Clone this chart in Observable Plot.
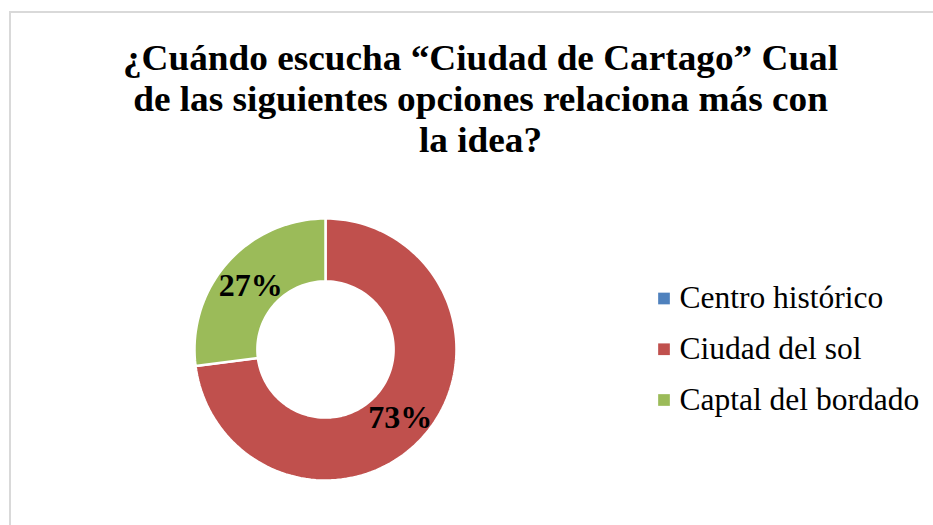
<!DOCTYPE html>
<html>
<head>
<meta charset="utf-8">
<script src="https://cdn.jsdelivr.net/npm/d3@7"></script>
<script src="https://cdn.jsdelivr.net/npm/@observablehq/plot@0.6"></script>
<style>
  html, body { margin: 0; padding: 0; background: #fff; overflow: hidden; width: 933px; height: 525px; }
  svg { max-width: none !important; }
  #frame { position: absolute; left: 9px; top: 11px; width: 940px; height: 530px;
           border-left: 2px solid #d9d9d9; border-top: 2px solid #d9d9d9; box-sizing: border-box; }
  #title { position: absolute; left: 0; top: 0; width: 960px; height: 170px;
           transform: scaleX(1.05); transform-origin: 480px 0; }
  #chart { position: absolute; left: 194px; top: 218px; }
  #legend { position: absolute; left: 640px; top: 260px; }
</style>
</head>
<body>
<div id="frame"></div>
<div id="title"></div>
<div id="chart"></div>
<div id="legend"></div>
<script>
const titleLines = ["¿Cuándo escucha “Ciudad de Cartago” Cual", "de las siguientes opciones relaciona más con", "la idea?"];
const categories = ["Centro histórico", "Ciudad del sol", "Captal del bordado"];
const values = [0, 73, 27];
const colors = ["#4F81BD", "#C0504D", "#9BBB59"];
const labels = ["0%", "73%", "27%"];

const serif = "Liberation Serif, Times New Roman, serif";

// ---- title ----
const titlePlot = Plot.plot({
  width: 960, height: 170, margin: 0,
  x: {axis: null},
  y: {domain: [0, titleLines.length - 1], range: [69.5, 151.5], axis: null},
  style: {background: "transparent", fontFamily: serif},
  marks: [
    Plot.text(titleLines, {y: (d, i) => i, text: d => d, frameAnchor: "top", lineAnchor: "bottom",
      textAnchor: "middle", fontSize: 35.5, fontWeight: "bold", fill: "black", fontFamily: serif})
  ]
});
document.getElementById("title").appendChild(titlePlot);

// ---- donut ----
const innerR = 0.52;
const outerR = 1;
const pie = d3.pie().sort(null).value(d => d.value)(categories.map((c, i) => ({category: c, value: values[i], label: labels[i]})));

const pts = [];
const steps = 160;
for (const a of pie) {
  if (a.endAngle - a.startAngle <= 0) continue;
  const n = Math.max(2, Math.ceil(steps * (a.endAngle - a.startAngle) / (2 * Math.PI)));
  for (let k = 0; k <= n; k++) {
    const t = a.startAngle + (a.endAngle - a.startAngle) * k / n;
    pts.push({category: a.data.category, x: outerR * Math.sin(t), y: outerR * Math.cos(t)});
  }
  for (let k = n; k >= 0; k--) {
    const t = a.startAngle + (a.endAngle - a.startAngle) * k / n;
    pts.push({category: a.data.category, x: innerR * Math.sin(t), y: innerR * Math.cos(t)});
  }
}
const labelData = pie.filter(a => a.data.value > 0).map(a => {
  const m = (a.startAngle + a.endAngle) / 2, r = (innerR + outerR) / 2;
  return {x: r * Math.sin(m), y: r * Math.cos(m), label: a.data.label};
});

const size = 262;
const plot = Plot.plot({
  width: size, height: size,
  margin: 0,
  x: {domain: [-1, 1], axis: null},
  y: {domain: [-1, 1], axis: null},
  color: {domain: categories, range: colors},
  style: {background: "transparent", overflow: "visible", fontFamily: serif},
  marks: [
    Plot.line(pts, {x: "x", y: "y", z: "category", fill: "category", stroke: "white", strokeWidth: 2.5, curve: "linear-closed"}),
    Plot.text(labelData, {x: "x", y: "y", text: "label", fontSize: 32, fontWeight: "bold",
      fontFamily: serif, fill: "black", dy: 2})
  ]
});
document.getElementById("chart").appendChild(plot);

// ---- legend ----
const legendPlot = Plot.plot({
  width: 293, height: 170, margin: 0,
  x: {axis: null},
  y: {domain: [0, categories.length - 1], range: [47.5, 149], axis: null},
  color: {domain: categories, range: colors},
  style: {background: "transparent", fontFamily: serif},
  marks: [
    Plot.dot(categories, {y: (d, i) => i, fill: d => d, symbol: "square", r: 6.6, frameAnchor: "left", dx: 23.5, dy: -9.5}),
    Plot.text(categories, {y: (d, i) => i, text: d => d, frameAnchor: "left", dx: 39, textAnchor: "start",
      lineAnchor: "bottom", fontSize: 31.5, fill: "black", fontFamily: serif})
  ]
});
document.getElementById("legend").appendChild(legendPlot);
</script>
</body>
</html>
